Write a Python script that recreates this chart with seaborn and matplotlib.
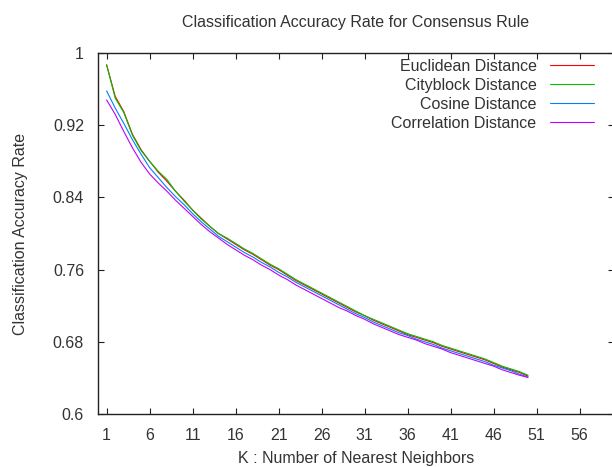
import numpy as np
import pandas as pd
import matplotlib
matplotlib.use("Agg")
import matplotlib.pyplot as plt
import seaborn as sns

# K values and accuracy curves
k_values = list(range(1, 51))

euclidean = [0.987, 0.952, 0.935, 0.910, 0.893, 0.880, 0.868, 0.858, 0.847, 0.837,
             0.826, 0.817, 0.808, 0.800, 0.794, 0.788, 0.782, 0.777, 0.771, 0.765,
             0.760, 0.754, 0.748, 0.743, 0.738, 0.733, 0.728, 0.723, 0.718, 0.713,
             0.709, 0.704, 0.700, 0.696, 0.692, 0.688, 0.685, 0.682, 0.679, 0.675,
             0.672, 0.669, 0.666, 0.663, 0.660, 0.656, 0.652, 0.649, 0.646, 0.642]
cityblock = [0.987, 0.950, 0.934, 0.909, 0.892, 0.880, 0.869, 0.860, 0.847, 0.836,
             0.826, 0.816, 0.808, 0.800, 0.795, 0.789, 0.783, 0.778, 0.772, 0.766,
             0.761, 0.755, 0.749, 0.744, 0.739, 0.734, 0.729, 0.724, 0.719, 0.714,
             0.709, 0.705, 0.701, 0.697, 0.693, 0.689, 0.686, 0.683, 0.680, 0.676,
             0.673, 0.670, 0.667, 0.664, 0.661, 0.657, 0.653, 0.650, 0.647, 0.643]
cosine = [0.958, 0.939, 0.922, 0.904, 0.888, 0.873, 0.862, 0.851, 0.841, 0.832,
          0.822, 0.813, 0.805, 0.797, 0.791, 0.785, 0.779, 0.774, 0.768, 0.763,
          0.757, 0.752, 0.746, 0.741, 0.736, 0.731, 0.726, 0.721, 0.716, 0.711,
          0.707, 0.702, 0.698, 0.694, 0.690, 0.687, 0.683, 0.680, 0.677, 0.673,
          0.670, 0.667, 0.664, 0.661, 0.658, 0.654, 0.651, 0.648, 0.644, 0.641]
correlation = [0.948, 0.932, 0.913, 0.895, 0.879, 0.866, 0.856, 0.847, 0.837, 0.828,
               0.819, 0.810, 0.802, 0.795, 0.788, 0.782, 0.776, 0.771, 0.765, 0.760,
               0.754, 0.749, 0.743, 0.738, 0.733, 0.728, 0.723, 0.718, 0.714, 0.709,
               0.705, 0.700, 0.696, 0.692, 0.688, 0.685, 0.682, 0.678, 0.675, 0.672,
               0.668, 0.665, 0.662, 0.659, 0.656, 0.653, 0.649, 0.646, 0.643, 0.6405]

series_names = ["Euclidean Distance", "Cityblock Distance", "Cosine Distance", "Correlation Distance"]
colors = ["#ff0000", "#00c000", "#0080ff", "#c000ff"]

x_ticks = list(range(1, 57, 5))
y_ticks = [0.6, 0.68, 0.76, 0.84, 0.92, 1.0]
y_tick_labels = ["0.6", "0.68", "0.76", "0.84", "0.92", "1"]

df = pd.DataFrame({
    "k": k_values * 4,
    "acc": euclidean + cityblock + cosine + correlation,
    "metric": np.repeat(series_names, len(k_values)),
})

sns.set_style("white")
plt.rcParams["font.family"] = ["Liberation Sans", "DejaVu Sans"]
txt = "#333333"

fig = plt.figure(figsize=(6.12, 4.67), dpi=100)
ax = fig.add_axes([98 / 612, 1 - 414 / 467, 516 / 612, 361 / 467])

sns.lineplot(data=df, x="k", y="acc", hue="metric", hue_order=series_names,
             palette=colors, linewidth=0.8, ax=ax, legend=False)

ax.set_xlim(0, 60)
ax.set_ylim(0.6, 1.0)
ax.set_xticks(x_ticks)
ax.set_yticks(y_ticks)
ax.set_yticklabels(y_tick_labels)
ax.tick_params(direction="in", length=4, width=0.8, bottom=True, left=True,
               top=True, right=True, labelsize=11.5, labelcolor=txt, pad=10,
               color="#222222")
for s in ax.spines.values():
    s.set_color("#222222")
    s.set_linewidth(1.0)

ax.set_title("Classification Accuracy Rate for Consensus Rule", fontsize=11.5,
             color=txt, pad=19)
ax.set_xlabel("K : Number of Nearest Neighbors", fontsize=11.5, color=txt, labelpad=6)
ax.set_ylabel("Classification Accuracy Rate", fontsize=11.5, color=txt, labelpad=18)

handles = [plt.Line2D([], [], color=c, lw=0.8) for c in colors]
leg = fig.legend(handles, series_names, loc="upper right",
                 bbox_to_anchor=(594 / 612, 1 - 59 / 467), frameon=False,
                 markerfirst=False, fontsize=11.5, handlelength=2.75,
                 handletextpad=0.85, labelspacing=0.25, borderpad=0,
                 borderaxespad=0)
for t in leg.get_texts():
    t.set_color(txt)

fig.savefig("out.png", dpi=100)
